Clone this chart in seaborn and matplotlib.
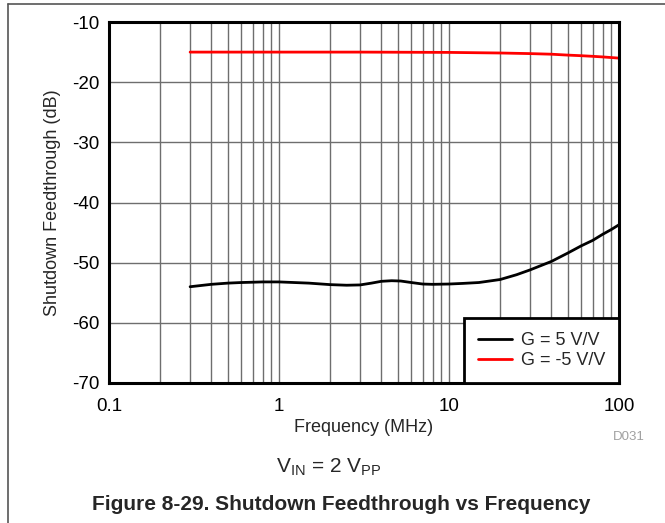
import matplotlib
matplotlib.use("Agg")
import matplotlib.pyplot as plt
from matplotlib.lines import Line2D
from matplotlib.ticker import FixedLocator, LogLocator, NullFormatter
import pandas as pd
import seaborn as sns

# G = 5 V/V
freq_pos = [0.3, 0.4, 0.5, 0.6, 0.7, 0.8, 1.0, 1.5, 2.0, 2.5, 3.0, 3.5, 4.0,
            4.6, 5.2, 6.0, 7.0, 8.0, 10, 12, 15, 20, 25, 30, 40, 50, 60, 70,
            80, 90, 100]
feed_pos = [-54.0, -53.6, -53.4, -53.3, -53.25, -53.2, -53.2, -53.4, -53.65,
            -53.75, -53.7, -53.4, -53.1, -53.0, -53.05, -53.3, -53.55, -53.6,
            -53.55, -53.45, -53.3, -52.8, -52.0, -51.2, -49.8, -48.4, -47.2,
            -46.3, -45.3, -44.5, -43.7]

# G = -5 V/V
freq_neg = [0.3, 1, 3, 10, 20, 30, 40, 50, 60, 70, 80, 100]
feed_neg = [-15.0, -15.0, -15.0, -15.05, -15.15, -15.25, -15.35, -15.5,
            -15.6, -15.7, -15.8, -16.0]

labels = ['G = 5 V/V', 'G = -5 V/V']
colors = ['black', '#ff0000']

y_ticks = [-10, -20, -30, -40, -50, -60, -70]
x_ticks = [0.1, 1, 10, 100]
x_tick_labels = ['0.1', '1', '10', '100']

df = pd.concat([
    pd.DataFrame({'f': freq_pos, 'db': feed_pos, 'gain': labels[0]}),
    pd.DataFrame({'f': freq_neg, 'db': feed_neg, 'gain': labels[1]}),
])

sns.set_theme(style='white')
plt.rcParams['font.family'] = ['Liberation Sans', 'DejaVu Sans']

fig = plt.figure(figsize=(6.65, 5.23), dpi=100)
ax = fig.add_axes([0.1639, 0.2677, 0.7669, 0.6902])

sns.lineplot(data=df, x='f', y='db', hue='gain', palette=colors,
             hue_order=labels, linewidth=2.0, ax=ax, sort=False)

ax.set_xscale('log')
ax.set_xlim(0.1, 100)
ax.set_ylim(-70, -10)
ax.xaxis.set_major_locator(FixedLocator(x_ticks))
ax.set_xticklabels(x_tick_labels)
ax.xaxis.set_minor_locator(LogLocator(base=10, subs=range(2, 10)))
ax.xaxis.set_minor_formatter(NullFormatter())
ax.set_yticks(y_ticks)
ax.set_yticklabels([str(v) for v in y_ticks])
ax.tick_params(axis='both', which='both', length=0, labelsize=13.5,
               colors='black')
ax.tick_params(axis='x', pad=11)
ax.tick_params(axis='y', pad=7)
ax.grid(True, which='both', color='#6e6e6e', linewidth=1)
for s in ax.spines.values():
    s.set_visible(True)
    s.set_color('black')
    s.set_linewidth(2.2)

ax.set_xlabel('Frequency (MHz)', fontsize=13, labelpad=2.5)
ax.set_ylabel('Shutdown Feedthrough (dB)', fontsize=13, labelpad=7.5)

leg = ax.legend(loc='lower right', borderaxespad=0, fancybox=False,
                framealpha=1, edgecolor='black', fontsize=13,
                handlelength=1.9, handletextpad=0.5, borderpad=0.75,
                labelspacing=0.2)
leg.get_frame().set_linewidth(2)
leg.get_frame().set_boxstyle('square', pad=0)

fig.text(0.946, 0.1587, 'D031', fontsize=9.5, color='#a0a0a0', ha='center',
         va='baseline')
fig.text(0.494, 0.0966, r'V$_{\mathregular{IN}}$ = 2 V$_{\mathregular{PP}}$',
         fontsize=15, ha='center', va='baseline')
fig.text(0.513, 0.024, 'Figure 8-29. Shutdown Feedthrough vs Frequency',
         fontsize=15, fontweight='bold', ha='center', va='baseline')

# page frame (top and left edges)
fig.add_artist(Line2D([0.012, 1.0], [0.992, 0.992], color='#555555', lw=1.2))
fig.add_artist(Line2D([0.012, 0.012], [0.0, 0.992], color='#555555', lw=1.2))

fig.savefig('out.png', dpi=100)
